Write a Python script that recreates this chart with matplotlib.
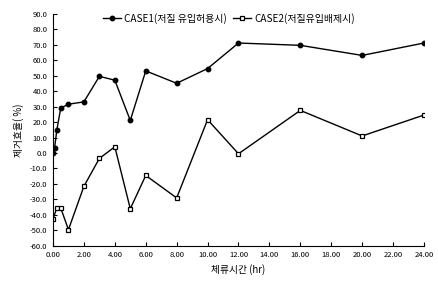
import matplotlib
matplotlib.use('Agg')
import matplotlib.pyplot as plt
from matplotlib.ticker import FormatStrFormatter

plt.rcParams['font.family'] = ['Noto Sans CJK KR', 'DejaVu Sans']

# 데이터
case1_t = [0, 0.1, 0.25, 0.5, 1, 2, 3, 4, 5, 6, 8, 10, 12, 16, 20, 24]
case1_v = [0, 3, 15, 29, 31.5, 33, 49.5, 47, 21, 53, 45, 54.5, 71, 69.5, 63, 71]
case2_t = [0, 0.25, 0.5, 1, 2, 3, 4, 5, 6, 8, 10, 12, 16, 20, 24]
case2_v = [-42.5, -35.5, -35.5, -49.5, -21.5, -3.5, 4, -36, -14.5, -29, 21.5, -0.5, 27.5, 11, 24.5]
case1_label = 'CASE1(저질 유입허용시)'
case2_label = 'CASE2(저질유입배제시)'

fig = plt.figure(figsize=(4.38, 2.89), dpi=100)
ax = fig.add_axes([0.121, 0.149, 0.847, 0.804])

ax.plot(case1_t, case1_v, color='black', linewidth=1.0, marker='o',
        markersize=3.2, markerfacecolor='black', label=case1_label)
ax.plot(case2_t, case2_v, color='black', linewidth=1.0, marker='s',
        markersize=3.4, markerfacecolor='white', markeredgewidth=0.9,
        label=case2_label)

ax.set_xlim(0, 24)
ax.set_ylim(-60, 90)
ax.set_xticks(range(0, 25, 2))
ax.set_yticks(range(-60, 91, 10))
ax.xaxis.set_major_formatter(FormatStrFormatter('%.2f'))
ax.yaxis.set_major_formatter(FormatStrFormatter('%.1f'))
ax.tick_params(direction='in', length=3, width=0.8, labelsize=5.5, pad=4)
ax.spines['top'].set_visible(False)
ax.spines['right'].set_visible(False)

ax.set_xlabel('체류시간 (hr)', fontsize=7, labelpad=3)
ax.set_ylabel('제거효율( %)', fontsize=7, labelpad=4)

ax.legend(loc='upper left', bbox_to_anchor=(0.125, 1.02), ncol=2,
          frameon=False, fontsize=7.2, handlelength=1.8, handletextpad=0.3,
          columnspacing=0.6, borderaxespad=0)

plt.savefig('out.png', dpi=100)
